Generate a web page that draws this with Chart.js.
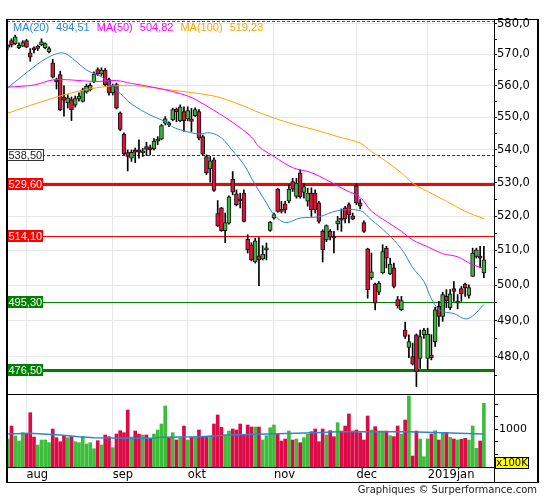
<!DOCTYPE html>
<html>
<head>
<meta charset="utf-8">
<script src="https://cdn.jsdelivr.net/npm/chart.js@4.4.1/dist/chart.umd.min.js"></script>
<style>
  body { margin: 0; background: #fff; }
  #wrap { position: relative; width: 545px; height: 500px; overflow: hidden; font-family: "DejaVu Sans", sans-serif; }
  #price { position: absolute; left: 0; top: 0; }
  #vol { position: absolute; left: 0; top: 394px; }
  .ln { position: absolute; background: #000; }
  #legend { position: absolute; left: 13px; top: 21px; font: 11px "Liberation Sans", Arial, sans-serif; white-space: nowrap; }
  #legend span { margin-right: 7px; }
  #unit { position: absolute; left: 495px; top: 457px; width: 32px; height: 10px; background: #ffff00; border: 1px solid #000;
          font: 10px "DejaVu Sans"; line-height: 10px; text-align: center; }
  #copy { position: absolute; right: 8px; top: 484px; font: 10px "DejaVu Sans"; color: #222; }
</style>
</head>
<body>
<div id="wrap">
  <canvas id="price" width="545" height="395"></canvas>
  <canvas id="vol" width="545" height="106"></canvas>
  <div id="legend"></div>
  <div class="ln" style="left:6px;top:19px;width:533px;height:1px"></div>
  <div class="ln" style="left:6px;top:19px;width:2px;height:464px"></div>
  <div class="ln" style="left:537px;top:19px;width:2px;height:464px"></div>
  <div class="ln" style="left:494px;top:19px;width:1px;height:464px"></div>
  <div class="ln" style="left:6px;top:394px;width:533px;height:1px"></div>
  <div class="ln" style="left:6px;top:467px;width:489px;height:1px"></div>
  <div class="ln" style="left:6px;top:482px;width:533px;height:1px"></div>
  <div id="unit">x100K</div>
  <div id="copy">Graphiques © Surperformance.com</div>
</div>
<script>
// daily candles, 25 jul 2018 -> jan 2019 (index = trading day)
const open = [572.4,574.5,573.5,572.2,572.7,574.5,570.5,571.8,572.0,573.1,
  572.2,570.8,567.3,561.8,563.5,556.4,554.5,555.6,553.8,555.8,
  555.0,557.9,558.7,561.2,565.1,563.7,564.9,561.9,557.7,560.3,
  551.4,544.8,539.1,537.4,539.9,539.9,539.0,540.9,540.6,540.2,
  542.6,543.2,548.2,548.2,549.2,552.6,548.9,551.8,549.5,549.5,
  550.5,551.8,544.0,537.9,534.1,536.9,520.7,522.4,515.7,517.9,
  531.0,526.6,524.9,526.8,513.2,511.6,506.6,508.4,507.4,510.1,
  515.8,519.4,528.0,521.9,523.6,524.4,530.3,525.8,532.9,527.0,
  524.4,526.8,526.8,523.9,515.5,513.0,515.5,514.0,517.7,519.0,
  522.4,523.4,520.1,529.0,523.9,518.1,510.4,502.1,500.3,498.0,
  503.5,510.6,503.2,504.9,495.9,493.1,487.4,482.6,480.1,486.1,
  479.6,486.1,479.6,480.5,484.2,494.0,491.2,496.8,493.6,499.0,
  494.9,499.0,500.3,497.1,502.5,508.2,508.2,503.5];
const high = [573.1,575.1,576.3,573.8,574.5,574.9,571.9,572.5,573.1,575.1,
  573.8,572.5,568.4,562.4,564.6,559.9,557.1,556.4,556.7,557.7,
  559.2,560.5,560.8,564.4,565.7,565.7,565.5,562.4,560.5,560.8,
  551.7,545.2,539.9,539.9,540.5,543.0,540.4,542.3,541.4,543.4,
  544.0,547.8,550.2,548.6,552.9,552.9,553.9,553.3,553.3,552.8,
  553.0,552.4,544.5,538.4,537.9,537.5,524.6,522.6,520.9,526.0,
  533.3,527.8,526.8,527.8,514.5,512.2,513.5,513.7,511.3,512.1,
  518.4,520.9,528.3,524.4,524.4,529.3,531.3,531.3,533.9,529.6,
  528.3,528.4,527.8,524.4,516.0,517.4,516.0,515.5,519.9,522.1,
  522.9,523.9,520.9,529.6,524.9,518.6,510.6,509.2,500.6,501.0,
  511.6,511.1,507.7,506.3,496.8,496.8,489.6,486.1,483.8,486.3,
  487.4,487.9,487.9,486.1,493.7,495.4,498.0,498.7,498.7,501.0,
  497.3,499.6,500.6,500.1,510.6,510.6,511.1,511.1];
const low = [571.5,572.4,573.2,571.9,572.6,572.2,567.8,570.5,571.2,572.8,
  571.8,570.5,562.4,558.9,552.1,550.4,552.9,549.0,553.2,555.1,
  554.8,557.6,558.3,560.9,563.2,563.2,559.9,557.0,557.0,552.6,
  545.8,538.4,533.5,536.4,536.0,537.4,537.9,538.2,538.4,539.9,
  541.5,543.0,547.6,547.1,548.9,548.6,548.6,545.6,548.9,545.6,
  550.2,543.0,538.3,532.4,530.1,527.3,516.9,515.5,512.2,517.6,
  526.3,523.0,522.4,518.3,509.2,506.9,506.3,499.8,507.2,507.2,
  515.5,519.1,521.1,520.9,520.9,523.9,527.3,525.3,525.3,525.3,
  522.9,519.9,520.9,517.9,506.6,512.5,513.0,509.2,515.9,515.5,
  518.0,518.0,518.9,523.4,522.1,515.2,496.3,501.6,493.0,497.3,
  503.2,504.9,503.0,499.2,493.5,492.8,485.1,479.8,477.8,472.0,
  476.9,485.1,476.5,479.2,482.9,488.4,489.8,493.6,493.1,495.4,
  493.3,495.4,496.8,496.3,502.5,507.7,504.9,502.1];
const close = [572.6,573.0,575.7,573.0,573.9,572.4,569.1,571.5,572.3,574.1,
  573.5,571.9,562.7,561.2,552.4,555.4,556.1,552.4,555.9,556.7,
  558.7,559.8,560.1,563.7,563.8,565.0,560.3,557.7,559.8,552.9,
  546.2,538.7,537.9,539.2,539.2,539.2,539.3,540.1,539.9,542.6,
  543.0,547.4,549.5,547.7,552.4,551.8,553.3,548.9,552.1,548.7,
  552.4,543.5,538.6,533.0,536.6,527.6,517.2,515.7,518.1,525.7,
  527.1,523.4,524.5,518.4,510.1,507.2,512.7,507.2,508.9,510.4,
  518.2,520.4,521.4,521.4,521.9,528.0,528.0,529.8,525.7,528.8,
  526.8,521.9,521.9,518.4,510.1,517.2,513.8,513.5,518.6,518.8,
  519.2,520.4,519.1,523.9,522.9,515.5,498.7,503.8,494.9,500.6,
  509.6,507.7,506.0,499.6,494.2,495.6,485.6,484.2,478.0,475.9,
  485.6,487.4,486.3,479.8,493.0,491.2,497.3,495.6,497.5,498.2,
  495.4,497.5,499.3,499.3,509.2,510.1,507.7,507.2];
const volume = [840,1048,888,808,941,931,1261,872,744,824,
  824,781,1000,861,797,893,861,877,797,781,
  877,760,781,685,813,744,904,877,701,920,
  973,941,1304,872,968,920,904,904,851,920,
  984,1080,1368,861,941,824,861,1048,824,867,
  877,984,877,877,888,1080,1224,1027,904,968,
  1000,984,1080,904,1064,1032,1032,1032,824,893,
  1021,1064,915,808,840,968,824,840,781,861,
  915,957,1000,797,1000,904,973,877,1101,968,
  1048,1240,968,984,941,824,1208,984,1037,968,
  968,968,893,877,1048,920,1144,1528,568,968,
  840,557,840,920,973,824,947,947,867,840,
  824,835,851,824,1048,691,808,1411];

// moving averages (day index, value)
const ma20Idx = [0,7,11,14,16,21,25,27,30,33,38,41,44,47,51,54,57,60,63,66,69,71,74,78,83,88,94,97,101,105,108,111,113,115,117,119,122,124,127];
const ma20 = [559.3,566.0,569.2,570.5,569.9,565.0,562.8,560.8,557.5,554.2,550.7,549.2,547.0,545.8,544.8,545.2,543.6,539.6,535.4,529.3,523.9,520.4,518.1,519.4,519.8,521.6,521.6,518.9,515.1,510.4,505.0,501.0,496.1,493.1,492.3,492.0,490.5,491.3,494.51];
const ma50Idx = [0,7,12,17,23,29,33,40,48,53,60,65,67,71,76,81,85,90,94,97,101,105,108,112,116,120,124,127];
const ma50 = [559.5,560.2,561.8,561.8,561.3,561.6,560.7,559.2,556.7,553.6,548.4,543.9,540.9,537.9,534.5,533.0,530.8,527.8,525.5,521.5,518.4,515.5,513.0,511.0,509.0,508.1,505.8,504.82];
const ma100Idx = [0,8,17,26,32,35,42,49,56,63,66,71,76,82,88,94,97,101,105,108,112,117,122,127];
const ma100 = [551.3,554.5,557.7,559.7,560.0,559.9,558.8,557.8,556.4,553.5,552.0,549.8,547.9,546.1,544.0,542.0,539.4,536.4,532.9,529.8,527.3,524.4,521.4,519.23];
const volMaIdx = [0,6,14,19,23,32,38,41,51,56,59,69,82,88,107,127];
const volMa = [920,931,904,877,861,851,851,867,877,893,904,920,941,957,957,920];

const levels = [538.5, 529.6, 514.1, 495.3, 476.5];
const topDash = [580.8];
const monthStart = [5, 28, 48, 71, 93, 112];
const monthLabels = ['aug', 'sep', 'okt', 'nov', 'dec', '2019jan'];
const priceTicks = [470,475,480,485,490,495,500,505,510,515,520,525,530,535,540,545,550,555,560,565,570,575,580];
const priceLabelled = [480,490,500,510,520,530,540,550,560,570,580];
const volTicks = [600, 800, 1000, 1200, 1400];

const UP = '#3cb43c', DOWN = '#dc143c';
const VUP = '#3cbe3c', VDOWN = '#dc0a46';
const C20 = '#2a86d6', C50 = '#ff00ff', C100 = '#ffa500';
const levelStyle = [
  { color: '#333', width: 1, dash: [3, 2], fill: '#fff', text: '#222' },
  { color: '#ff0000', width: 3, dash: [], fill: '#ff0000', text: '#fff' },
  { color: '#ff0000', width: 1, dash: [], fill: '#ff0000', text: '#fff' },
  { color: '#008000', width: 1, dash: [], fill: '#008000', text: '#fff' },
  { color: '#008000', width: 3, dash: [], fill: '#008000', text: '#fff' }
];

const X_MIN = -0.2, X_MAX = 129.7;
const days = open.map((o, i) => i);
const isUp = days.map(i => close[i] >= open[i]);
const fmt = (v, d) => v.toFixed(d).replace('.', ',');
const pts = (ix, vals) => ix.map((x, k) => ({ x: x, y: vals[k] }));
const noPad = s => { s.paddingTop = 0; s.paddingBottom = 0; };

document.getElementById('legend').innerHTML =
  '<span style="color:' + C20 + '">MA(20)</span><span style="color:' + C20 + '">' + fmt(ma20[ma20.length - 1], 2) + '</span>' +
  '<span style="color:' + C50 + '">MA(50)</span><span style="color:' + C50 + '">' + fmt(ma50[ma50.length - 1], 2) + '</span>' +
  '<span style="color:' + C100 + '">MA(100)</span><span style="color:' + C100 + '">' + fmt(ma100[ma100.length - 1], 2) + '</span>';

const levelPlugin = {
  id: 'levels',
  beforeDatasetsDraw(chart) {
    const { ctx, chartArea: a, scales: { y } } = chart;
    ctx.save();
    topDash.forEach(v => {
      const py = Math.round(y.getPixelForValue(v)) + 0.5;
      ctx.strokeStyle = '#555'; ctx.lineWidth = 1; ctx.setLineDash([3, 2]);
      ctx.beginPath(); ctx.moveTo(a.left, py); ctx.lineTo(a.right, py); ctx.stroke();
    });
    levels.forEach((v, k) => {
      const s = levelStyle[k];
      const py = Math.round(y.getPixelForValue(v)) + (s.width % 2 ? 0.5 : 0);
      ctx.strokeStyle = s.color; ctx.lineWidth = s.width; ctx.setLineDash(s.dash);
      ctx.beginPath(); ctx.moveTo(a.left, py); ctx.lineTo(a.right, py); ctx.stroke();
    });
    ctx.restore();
  },
  afterDatasetsDraw(chart) {
    const { ctx, chartArea: a, scales: { y } } = chart;
    ctx.save();
    ctx.font = '11px "Liberation Sans", Arial, sans-serif';
    ctx.textBaseline = 'middle';
    levels.forEach((v, k) => {
      const s = levelStyle[k];
      const py = Math.round(y.getPixelForValue(v));
      ctx.setLineDash([]);
      ctx.fillStyle = s.fill;
      ctx.fillRect(a.left, py - 6, 36, 12);
      if (s.fill === '#fff') { ctx.strokeStyle = '#333'; ctx.lineWidth = 1; ctx.strokeRect(a.left + 0.5, py - 5.5, 36, 11); }
      ctx.fillStyle = s.text;
      ctx.fillText(fmt(v, 2), a.left + 1.5, py + 0.5);
    });
    ctx.restore();
  }
};

Chart.defaults.font.family = '"DejaVu Sans", sans-serif';

new Chart(document.getElementById('price'), {
  type: 'bar',
  data: {
    datasets: [
      { type: 'line', data: pts(ma20Idx, ma20), borderColor: C20, borderWidth: 1, pointRadius: 0, tension: 0.35, order: 0 },
      { type: 'line', data: pts(ma50Idx, ma50), borderColor: C50, borderWidth: 1, pointRadius: 0, tension: 0.35, order: 0 },
      { type: 'line', data: pts(ma100Idx, ma100), borderColor: C100, borderWidth: 1, pointRadius: 0, tension: 0.35, order: 0 },
      { data: days.map(i => ({ x: i, y: [Math.min(open[i], close[i]), Math.max(open[i], close[i])] })),
        backgroundColor: days.map(i => isUp[i] ? UP : DOWN), borderColor: '#111', borderWidth: 1, borderSkipped: false,
        barThickness: 4, minBarLength: 2, grouped: false, order: 1 },
      { data: days.map(i => ({ x: i, y: [low[i], high[i]] })),
        backgroundColor: '#000', barThickness: 1, grouped: false, order: 2 }
    ]
  },
  options: {
    responsive: false, animation: false,
    layout: { padding: { left: 7, top: 19, right: 0, bottom: 1 } },
    plugins: { legend: { display: false }, tooltip: { enabled: false } },
    scales: {
      x: {
        type: 'linear', min: X_MIN, max: X_MAX, offset: false,
        afterBuildTicks: s => { s.ticks = monthStart.map(v => ({ value: v })); },
        afterFit: s => { s.height = 0; s.paddingLeft = 0; s.paddingRight = 0; },
        ticks: { display: false },
        grid: { color: '#e8e8e8', drawTicks: false, offset: false },
        border: { display: false }
      },
      y: {
        type: 'logarithmic', position: 'right', min: 470, max: 581.6,
        afterBuildTicks: s => { s.ticks = priceTicks.map(v => ({ value: v })); },
        afterFit: s => { s.width = 51; noPad(s); },
        ticks: { callback: v => priceLabelled.includes(v) ? fmt(v, 1) : '', color: '#000', autoSkip: false, padding: 0,
                 font: { size: 11.5 } },
        grid: { color: c => (c.tick && priceLabelled.includes(c.tick.value)) ? '#e8e8e8' : 'rgba(0,0,0,0)', tickColor: '#000', tickLength: 3 },
        border: { display: false }
      }
    }
  },
  plugins: [levelPlugin]
});

new Chart(document.getElementById('vol'), {
  type: 'bar',
  data: {
    datasets: [
      { type: 'line', data: pts(volMaIdx, volMa), borderColor: C20, borderWidth: 1.5, pointRadius: 0, order: 0 },
      { data: days.map(i => ({ x: i, y: volume[i] })), backgroundColor: days.map(i => isUp[i] ? VUP : VDOWN),
        barThickness: 3, order: 1 }
    ]
  },
  options: {
    responsive: false, animation: false,
    layout: { padding: { left: 7, top: 1, right: 0, bottom: 0 } },
    plugins: { legend: { display: false }, tooltip: { enabled: false } },
    scales: {
      x: {
        type: 'linear', min: X_MIN, max: X_MAX, offset: false,
        afterBuildTicks: s => { s.ticks = monthStart.map(v => ({ value: v })); },
        afterFit: s => { s.height = 33; s.paddingLeft = 0; s.paddingRight = 0; },
        ticks: { callback: (v, i) => monthLabels[i], align: 'start', color: '#000', padding: 1, maxRotation: 0, autoSkip: false,
                 font: { size: 11.5 } },
        grid: { color: '#e8e8e8', drawTicks: false, offset: false },
        border: { display: false }
      },
      y: {
        position: 'right', min: 392, max: 1544,
        afterBuildTicks: s => { s.ticks = volTicks.map(v => ({ value: v })); },
        afterFit: s => { s.width = 51; noPad(s); },
        ticks: { callback: v => v === 1000 ? '1000' : '', color: '#000', autoSkip: false, padding: 1, font: { size: 11 } },
        grid: { drawOnChartArea: false, tickColor: '#000', tickLength: 4 },
        border: { display: false }
      }
    }
  }
});
</script>
</body>
</html>
